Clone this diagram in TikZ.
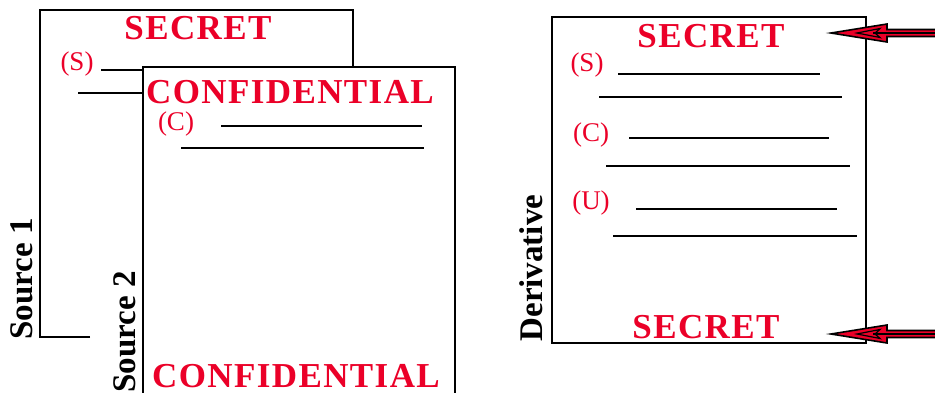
\documentclass[tikz,border=0pt]{standalone}
\usepackage{fontspec}
\setmainfont{Liberation Serif}
\newfontfamily\spacedfont[LetterSpace=4]{Liberation Serif}
\definecolor{classred}{RGB}{235,0,40}

\begin{document}
\begin{tikzpicture}
	[
	x=1pt, y=-1pt,
	page/.style={draw, line width=2pt, fill=white},
	rule/.style={line width=2pt},
	banner/.style={text=classred, font=\spacedfont\bfseries\fontsize{35}{35}\selectfont, inner sep=0pt},
	tag/.style={text=classred, font=\fontsize{27}{27}\selectfont, inner sep=0pt},
	source/.style={rotate=90, font=\bfseries\fontsize{33}{33}\selectfont, inner sep=0pt},
	flow/.style={draw, line width=1.6pt, fill=classred, line join=miter},
	]
		\useasboundingbox (0,0) rectangle (935,392);
		
		% source 1
		\draw[line width=2pt] (90,337) -- (40,337) -- (40,10) -- (353,10) -- (353,70);
		\node[banner] (s1top) at 		(198, 28) {SECRET};
		\node[tag] (s1s) at 		( 77, 64) {(S)};
		\draw[rule] (101,70) -- (150,70);
		\draw[rule] ( 78,93) -- (150,93);
		\node[source] (s1name) at 		( 22,279) {Source 1};
		
		% source 2
		\draw[page] (143,67) rectangle (455,420);
		\node[banner] (s2top) at 		(290, 92) {CONFIDENTIAL};
		\node[tag] (s2c) at 		(176,124) {(C)};
		\draw[rule] (221,126) -- (422,126);
		\draw[rule] (181,148) -- (424,148);
		\node[banner] (s2bot) at 		(296,376) {CONFIDENTIAL};
		\node[source] (s2name) at 		(125,332) {Source 2};
		
		% derivative
		\draw[page] (552,17) rectangle (866,343);
		\node[banner] (dtop) at 		(711, 36) {SECRET};
		\node[tag] (ds) at 		(587, 65) {(S)};
		\draw[rule] (618, 74) -- (820, 74);
		\draw[rule] (599, 97) -- (842, 97);
		\node[tag] (dc) at 		(591,135) {(C)};
		\draw[rule] (629,138) -- (829,138);
		\draw[rule] (606,166) -- (850,166);
		\node[tag] (du) at 		(591,203) {(U)};
		\draw[rule] (636,209) -- (837,209);
		\draw[rule] (613,236) -- (857,236);
		\node[banner] (dbot) at 		(706,327) {SECRET};
		\node[source] (dname) at 		(531,268) {Derivative};
		
		% marking arrows
		\foreach \y in {33,334} {
			\draw[flow] (831,\y) -- ++(56,-9) -- ++(0,5.5) -- ++(60,0) -- ++(0,7) -- ++(-60,0) -- ++(0,5.5) -- cycle;
			\draw[line width=1.2pt, fill=classred] (857,\y) -- ++(23,-4.5) -- ++(-5,4.5) -- ++(5,4.5) -- cycle;
			\draw[line width=1.5pt] (873,\y) -- (947,\y);
		}
		
	\end{tikzpicture}
\end{document}
